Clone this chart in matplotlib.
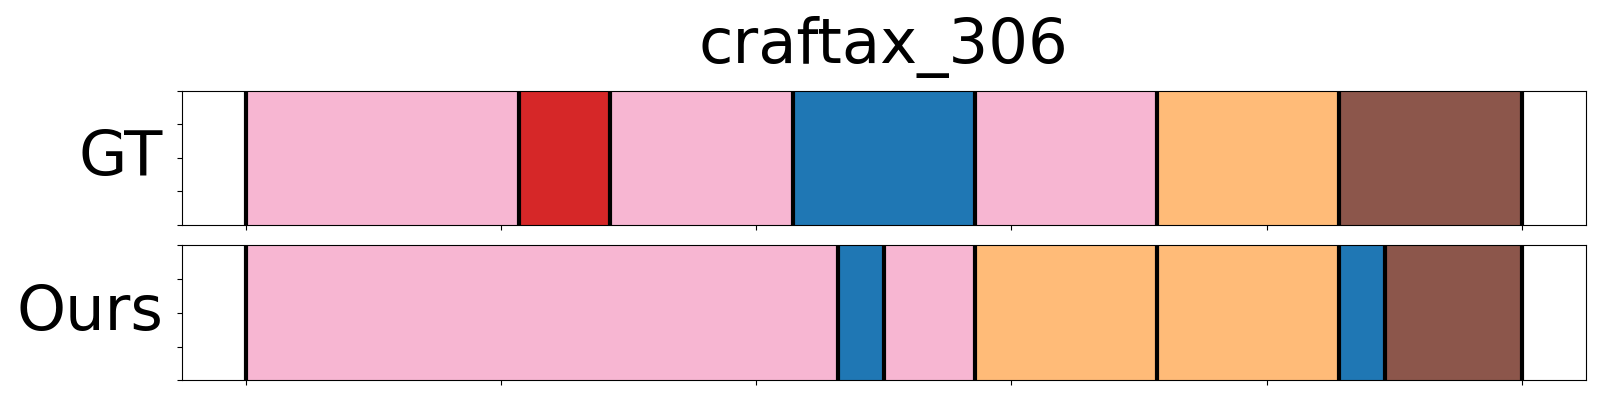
import numpy as np
import matplotlib
matplotlib.use('Agg')
import matplotlib.pyplot as plt

# segment boundaries (fraction of episode) and segment classes
gt_bounds = [0, 6 / 28, 8 / 28, 12 / 28, 16 / 28, 20 / 28, 24 / 28, 1.0]
gt_classes = ['pink', 'red', 'pink', 'blue', 'pink', 'orange', 'brown']

ours_bounds = [0, 13 / 28, 14 / 28, 16 / 28, 20 / 28, 24 / 28, 25 / 28, 1.0]
ours_classes = ['pink', 'blue', 'pink', 'orange', 'orange', 'blue', 'brown']

colors = {'pink': '#f7b6d2', 'red': '#d62728', 'blue': '#1f77b4',
          'orange': '#ffbb78', 'brown': '#8c564b'}

fig = plt.figure(figsize=(16, 4), dpi=100)
ax_gt = fig.add_axes([0.1136, 0.4375, 0.8774, 0.3355])
ax_ours = fig.add_axes([0.1136, 0.049, 0.8774, 0.338])


def draw_segments(ax, bounds, classes, name):
    for i, cls in enumerate(classes):
        ax.axvspan(bounds[i], bounds[i + 1], color=colors[cls], lw=0.8)
    for b in bounds:
        ax.axvline(b, color='black', lw=3)
    ax.set_xlim(-0.05, 1.05)
    ax.set_ylim(0, 1)
    ax.set_xticks(np.linspace(0, 1, 6))
    ax.set_yticks(np.linspace(0, 1, 5))
    ax.set_xticklabels([])
    ax.set_yticklabels([])
    ax.set_ylabel(name, fontsize=45, rotation=0, ha='right', va='center', labelpad=6.5)


draw_segments(ax_gt, gt_bounds, gt_classes, 'GT')
draw_segments(ax_ours, ours_bounds, ours_classes, 'Ours')

ax_gt.set_title('craftax_306', fontsize=45, pad=20)

plt.savefig('out.png')
